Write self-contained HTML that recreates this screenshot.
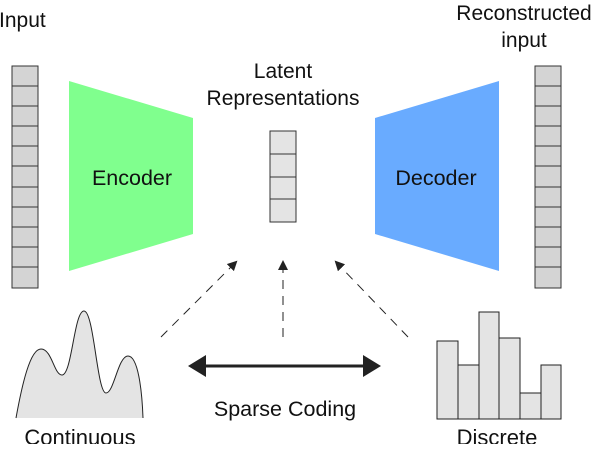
<!DOCTYPE html>
<html><head><style>
body{margin:0;background:#fff;}
svg text{font-family:"Liberation Sans",sans-serif;fill:#111;}
</style></head><body>
<svg width="616" height="444" viewBox="0 0 616 444" xmlns="http://www.w3.org/2000/svg">
<defs>
<marker id="ah" markerWidth="10" markerHeight="10" refX="8" refY="5" orient="auto" markerUnits="userSpaceOnUse"><path d="M0,0 L10,5 L0,10 Z" fill="#222"/></marker>
</defs>
<text x="-1" y="27" font-size="21">Input</text>
<text x="524" y="20" font-size="21" text-anchor="middle">Reconstructed</text>
<text x="524" y="47" font-size="21" text-anchor="middle">input</text>
<text x="283" y="78" font-size="21" text-anchor="middle">Latent</text>
<text x="283" y="105" font-size="21" text-anchor="middle">Representations</text>
<g fill="#d4d4d4" stroke="#333" stroke-width="1">
<rect x="12" y="66" width="26" height="222"/>
<rect x="535" y="66" width="26" height="222"/>
</g>
<g stroke="#333" stroke-width="1">
<line x1="12" y1="86" x2="38" y2="86"/><line x1="12" y1="106" x2="38" y2="106"/><line x1="12" y1="126" x2="38" y2="126"/><line x1="12" y1="146" x2="38" y2="146"/><line x1="12" y1="166" x2="38" y2="166"/><line x1="12" y1="187" x2="38" y2="187"/><line x1="12" y1="207" x2="38" y2="207"/><line x1="12" y1="227" x2="38" y2="227"/><line x1="12" y1="247" x2="38" y2="247"/><line x1="12" y1="267" x2="38" y2="267"/>
<line x1="535" y1="86" x2="561" y2="86"/><line x1="535" y1="106" x2="561" y2="106"/><line x1="535" y1="126" x2="561" y2="126"/><line x1="535" y1="146" x2="561" y2="146"/><line x1="535" y1="166" x2="561" y2="166"/><line x1="535" y1="187" x2="561" y2="187"/><line x1="535" y1="207" x2="561" y2="207"/><line x1="535" y1="227" x2="561" y2="227"/><line x1="535" y1="247" x2="561" y2="247"/><line x1="535" y1="267" x2="561" y2="267"/>
</g>
<rect x="270" y="131" width="26" height="91" fill="#e4e4e4" stroke="#333"/>
<g stroke="#333"><line x1="270" y1="154" x2="296" y2="154"/><line x1="270" y1="177" x2="296" y2="177"/><line x1="270" y1="199" x2="296" y2="199"/></g>
<polygon points="69,81 193,118 193,234 69,271" fill="#80ff8e"/>
<polygon points="375,118 499,81 499,271 375,234" fill="#69abff"/>
<text x="132" y="185" font-size="21.5" text-anchor="middle">Encoder</text>
<text x="436" y="185" font-size="21.5" text-anchor="middle">Decoder</text>
<g stroke="#222" stroke-width="1" stroke-dasharray="9,7" fill="none">
<line x1="161" y1="337" x2="236" y2="262" marker-end="url(#ah)"/>
<line x1="283" y1="337" x2="283" y2="262" marker-end="url(#ah)"/>
<line x1="408" y1="337" x2="336" y2="262" marker-end="url(#ah)"/>
</g>
<line x1="200" y1="366" x2="368" y2="366" stroke="#222" stroke-width="3"/>
<polygon points="188,366 206,355 206,377" fill="#222"/>
<polygon points="381,366 363,355 363,377" fill="#222"/>
<text x="285" y="416" font-size="21.5" text-anchor="middle">Sparse Coding</text>
<path d="M16,418 C22,385 30,349 41,349 C52,349 54,375 62,375 C72,375 74,311 84,311 C94,311 97,393 106,393 C114,393 118,356 128,356 C138,356 142,390 143,418 Z" fill="#e4e4e4" stroke="none"/>
<path d="M16,418 C22,385 30,349 41,349 C52,349 54,375 62,375 C72,375 74,311 84,311 C94,311 97,393 106,393 C114,393 118,356 128,356 C138,356 142,390 143,418" fill="none" stroke="#222" stroke-width="1"/>
<text x="80" y="445" font-size="22" text-anchor="middle">Continuous</text>
<g fill="#e4e4e4" stroke="#222" stroke-width="1">
<rect x="437" y="341" width="21" height="78"/>
<rect x="458" y="365" width="21" height="54"/>
<rect x="479" y="312" width="20" height="107"/>
<rect x="499" y="338" width="21" height="81"/>
<rect x="520" y="393" width="21" height="26"/>
<rect x="541" y="365" width="20" height="54"/>
</g>
<text x="497" y="445" font-size="22" text-anchor="middle">Discrete</text>
</svg>
</body></html>
